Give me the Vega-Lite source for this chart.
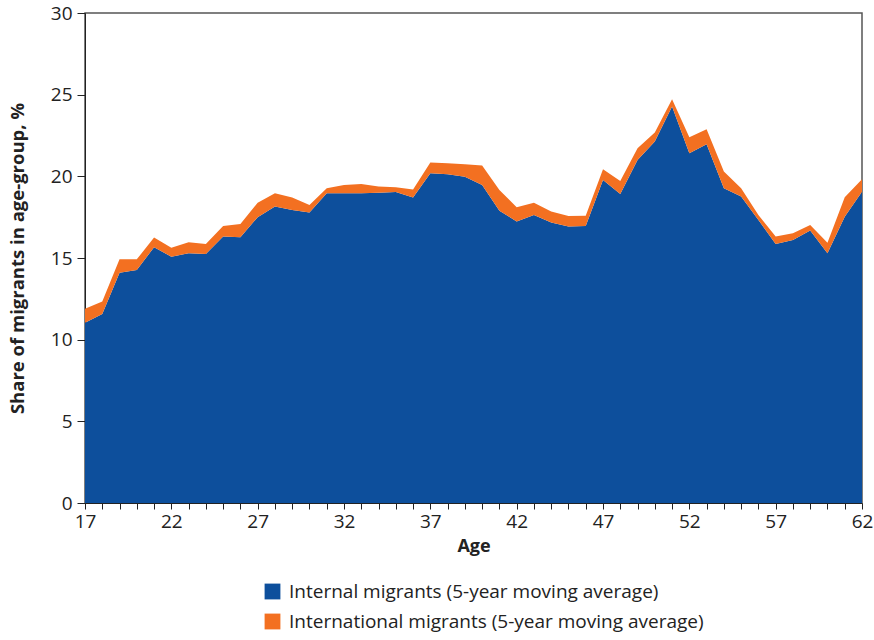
{
  "$schema": "https://vega.github.io/schema/vega-lite/v6.json",
  "width": 777,
  "height": 490,
  "autosize": {"type": "none"},
  "padding": {"left": 85, "top": 13, "right": 12, "bottom": 137},
  "background": "white",
  "config": {
    "font": "Open Sans",
    "view": {"stroke": "#555", "strokeWidth": 1.5},
    "axis": {"grid": false, "domainColor": "#222", "tickColor": "#222", "labelColor": "#222", "titleColor": "#222", "labelFont": "Open Sans", "titleFont": "Open Sans"}
  },
  "data": {
    "values": [
      {"age": 17, "series": "Internal migrants (5-year moving average)", "value": 11.04},
      {"age": 18, "series": "Internal migrants (5-year moving average)", "value": 11.57},
      {"age": 19, "series": "Internal migrants (5-year moving average)", "value": 14.1},
      {"age": 20, "series": "Internal migrants (5-year moving average)", "value": 14.27},
      {"age": 21, "series": "Internal migrants (5-year moving average)", "value": 15.66},
      {"age": 22, "series": "Internal migrants (5-year moving average)", "value": 15.08},
      {"age": 23, "series": "Internal migrants (5-year moving average)", "value": 15.29},
      {"age": 24, "series": "Internal migrants (5-year moving average)", "value": 15.25},
      {"age": 25, "series": "Internal migrants (5-year moving average)", "value": 16.31},
      {"age": 26, "series": "Internal migrants (5-year moving average)", "value": 16.27},
      {"age": 27, "series": "Internal migrants (5-year moving average)", "value": 17.5},
      {"age": 28, "series": "Internal migrants (5-year moving average)", "value": 18.15},
      {"age": 29, "series": "Internal migrants (5-year moving average)", "value": 17.94},
      {"age": 30, "series": "Internal migrants (5-year moving average)", "value": 17.78},
      {"age": 31, "series": "Internal migrants (5-year moving average)", "value": 18.96},
      {"age": 32, "series": "Internal migrants (5-year moving average)", "value": 18.96},
      {"age": 33, "series": "Internal migrants (5-year moving average)", "value": 18.96},
      {"age": 34, "series": "Internal migrants (5-year moving average)", "value": 19.0},
      {"age": 35, "series": "Internal migrants (5-year moving average)", "value": 19.04},
      {"age": 36, "series": "Internal migrants (5-year moving average)", "value": 18.7},
      {"age": 37, "series": "Internal migrants (5-year moving average)", "value": 20.19},
      {"age": 38, "series": "Internal migrants (5-year moving average)", "value": 20.13},
      {"age": 39, "series": "Internal migrants (5-year moving average)", "value": 19.98},
      {"age": 40, "series": "Internal migrants (5-year moving average)", "value": 19.47},
      {"age": 41, "series": "Internal migrants (5-year moving average)", "value": 17.9},
      {"age": 42, "series": "Internal migrants (5-year moving average)", "value": 17.23},
      {"age": 43, "series": "Internal migrants (5-year moving average)", "value": 17.64},
      {"age": 44, "series": "Internal migrants (5-year moving average)", "value": 17.17},
      {"age": 45, "series": "Internal migrants (5-year moving average)", "value": 16.93},
      {"age": 46, "series": "Internal migrants (5-year moving average)", "value": 16.96},
      {"age": 47, "series": "Internal migrants (5-year moving average)", "value": 19.78},
      {"age": 48, "series": "Internal migrants (5-year moving average)", "value": 18.92},
      {"age": 49, "series": "Internal migrants (5-year moving average)", "value": 21.0},
      {"age": 50, "series": "Internal migrants (5-year moving average)", "value": 22.13},
      {"age": 51, "series": "Internal migrants (5-year moving average)", "value": 24.27},
      {"age": 52, "series": "Internal migrants (5-year moving average)", "value": 21.41},
      {"age": 53, "series": "Internal migrants (5-year moving average)", "value": 21.97},
      {"age": 54, "series": "Internal migrants (5-year moving average)", "value": 19.27},
      {"age": 55, "series": "Internal migrants (5-year moving average)", "value": 18.76},
      {"age": 56, "series": "Internal migrants (5-year moving average)", "value": 17.33},
      {"age": 57, "series": "Internal migrants (5-year moving average)", "value": 15.86},
      {"age": 58, "series": "Internal migrants (5-year moving average)", "value": 16.1},
      {"age": 59, "series": "Internal migrants (5-year moving average)", "value": 16.68},
      {"age": 60, "series": "Internal migrants (5-year moving average)", "value": 15.29},
      {"age": 61, "series": "Internal migrants (5-year moving average)", "value": 17.53},
      {"age": 62, "series": "Internal migrants (5-year moving average)", "value": 19.06},
      {"age": 17, "series": "International migrants (5-year moving average)", "value": 0.86},
      {"age": 18, "series": "International migrants (5-year moving average)", "value": 0.76},
      {"age": 19, "series": "International migrants (5-year moving average)", "value": 0.82},
      {"age": 20, "series": "International migrants (5-year moving average)", "value": 0.65},
      {"age": 21, "series": "International migrants (5-year moving average)", "value": 0.59},
      {"age": 22, "series": "International migrants (5-year moving average)", "value": 0.55},
      {"age": 23, "series": "International migrants (5-year moving average)", "value": 0.67},
      {"age": 24, "series": "International migrants (5-year moving average)", "value": 0.61},
      {"age": 25, "series": "International migrants (5-year moving average)", "value": 0.65},
      {"age": 26, "series": "International migrants (5-year moving average)", "value": 0.81},
      {"age": 27, "series": "International migrants (5-year moving average)", "value": 0.89},
      {"age": 28, "series": "International migrants (5-year moving average)", "value": 0.81},
      {"age": 29, "series": "International migrants (5-year moving average)", "value": 0.76},
      {"age": 30, "series": "International migrants (5-year moving average)", "value": 0.47},
      {"age": 31, "series": "International migrants (5-year moving average)", "value": 0.31},
      {"age": 32, "series": "International migrants (5-year moving average)", "value": 0.51},
      {"age": 33, "series": "International migrants (5-year moving average)", "value": 0.57},
      {"age": 34, "series": "International migrants (5-year moving average)", "value": 0.37},
      {"age": 35, "series": "International migrants (5-year moving average)", "value": 0.29},
      {"age": 36, "series": "International migrants (5-year moving average)", "value": 0.5},
      {"age": 37, "series": "International migrants (5-year moving average)", "value": 0.66},
      {"age": 38, "series": "International migrants (5-year moving average)", "value": 0.67},
      {"age": 39, "series": "International migrants (5-year moving average)", "value": 0.76},
      {"age": 40, "series": "International migrants (5-year moving average)", "value": 1.19},
      {"age": 41, "series": "International migrants (5-year moving average)", "value": 1.27},
      {"age": 42, "series": "International migrants (5-year moving average)", "value": 0.87},
      {"age": 43, "series": "International migrants (5-year moving average)", "value": 0.75},
      {"age": 44, "series": "International migrants (5-year moving average)", "value": 0.67},
      {"age": 45, "series": "International migrants (5-year moving average)", "value": 0.64},
      {"age": 46, "series": "International migrants (5-year moving average)", "value": 0.63},
      {"age": 47, "series": "International migrants (5-year moving average)", "value": 0.65},
      {"age": 48, "series": "International migrants (5-year moving average)", "value": 0.8},
      {"age": 49, "series": "International migrants (5-year moving average)", "value": 0.72},
      {"age": 50, "series": "International migrants (5-year moving average)", "value": 0.55},
      {"age": 51, "series": "International migrants (5-year moving average)", "value": 0.45},
      {"age": 52, "series": "International migrants (5-year moving average)", "value": 0.98},
      {"age": 53, "series": "International migrants (5-year moving average)", "value": 0.91},
      {"age": 54, "series": "International migrants (5-year moving average)", "value": 1.02},
      {"age": 55, "series": "International migrants (5-year moving average)", "value": 0.51},
      {"age": 56, "series": "International migrants (5-year moving average)", "value": 0.31},
      {"age": 57, "series": "International migrants (5-year moving average)", "value": 0.45},
      {"age": 58, "series": "International migrants (5-year moving average)", "value": 0.41},
      {"age": 59, "series": "International migrants (5-year moving average)", "value": 0.34},
      {"age": 60, "series": "International migrants (5-year moving average)", "value": 0.65},
      {"age": 61, "series": "International migrants (5-year moving average)", "value": 1.19},
      {"age": 62, "series": "International migrants (5-year moving average)", "value": 0.76}
    ]
  },
  "mark": {"type": "area", "interpolate": "linear"},
  "encoding": {
    "x": {
      "field": "age",
      "type": "quantitative",
      "scale": {"domain": [17, 62], "nice": false, "zero": false},
      "axis": {
        "title": "Age",
        "values": [17,18,19,20,21,22,23,24,25,26,27,28,29,30,31,32,33,34,35,36,37,38,39,40,41,42,43,44,45,46,47,48,49,50,51,52,53,54,55,56,57,58,59,60,61,62],
        "labelExpr": "(datum.value - 17) % 5 === 0 ? datum.label : ''",
        "labelFontSize": 19,
        "labelPadding": 3,
        "labelOverlap": false,
        "labelFlush": false,
        "labelBound": false,
        "tickSize": 6,
        "titleFontSize": 18,
        "titleFontWeight": "bold",
        "titlePadding": 6
      }
    },
    "y": {
      "field": "value",
      "type": "quantitative",
      "stack": "zero",
      "scale": {"domain": [0, 30], "nice": false},
      "axis": {
        "title": "Share of migrants in age-group, %",
        "values": [0, 5, 10, 15, 20, 25, 30],
        "labelFontSize": 19,
        "labelPadding": 5,
        "labelFlush": false,
        "tickSize": 8,
        "titleFontSize": 18.5,
        "titleFontWeight": "bold",
        "titlePadding": 23
      }
    },
    "color": {
      "field": "series",
      "type": "nominal",
      "scale": {
        "domain": ["Internal migrants (5-year moving average)", "International migrants (5-year moving average)"],
        "range": ["#0D4F9C", "#F37021"]
      },
      "legend": {
        "title": null,
        "orient": "none",
        "legendX": 178,
        "legendY": 569,
        "direction": "vertical",
        "symbolType": "square",
        "symbolSize": 250,
        "symbolStrokeWidth": 0,
        "labelFontSize": 19,
        "labelColor": "#222",
        "labelLimit": 650,
        "rowPadding": 10,
        "labelOffset": 7
      }
    },
    "order": {"field": "series", "sort": "ascending"}
  }
}
